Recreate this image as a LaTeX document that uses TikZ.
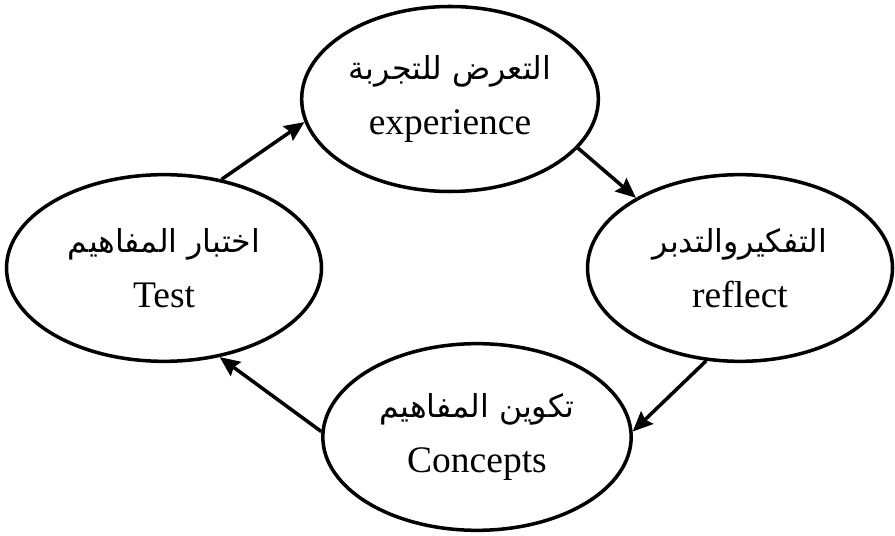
\documentclass[tikz,border=0pt]{standalone}
\usepackage{fontspec}
\usepackage{tikz}
\usetikzlibrary{shapes.geometric,arrows.meta}
\setmainfont{Liberation Serif}
\newfontfamily\arabicfont[Script=Arabic]{DejaVu Sans}
\TeXXeTstate=1
\newcommand{\ar}[1]{{\arabicfont\fontsize{27}{47}\selectfont\beginR #1\endR}}

\begin{document}
\begin{tikzpicture}[
		stage/.style={ellipse, draw, line width=3pt, inner sep=0pt, align=center,
			font=\fontsize{32}{47}\selectfont},
		flow/.style={line width=3pt, -{Stealth[length=0.6cm, width=0.52cm, inset=0.08cm]}}]
		\useasboundingbox (0, 0) rectangle (26.85, 16.05);
		%%
		\node[stage, minimum width=8.9cm, minimum height=5.55cm] (exp) at (13.5, 13.08) {\ar{التعرض للتجربة}\\experience};
		\node[stage, minimum width=9.15cm, minimum height=5.6cm] (refl) at (22.2, 8.01) {\ar{التفكيروالتدبر}\\reflect};
		\node[stage, minimum width=9.25cm, minimum height=5.6cm] (conc) at (14.31, 2.94) {\ar{تكوين المفاهيم}\\Concepts};
		\node[stage, minimum width=9.45cm, minimum height=5.6cm] (test) at (4.92, 8.01) {\ar{اختبار المفاهيم}\\Test};
		%%
		\draw[flow] (test.57) -- (exp.189);
		\draw[flow] (exp.339) -- (refl.146);
		\draw[flow] (refl.250) -- (conc.2);
		\draw[flow] (conc.178) -- (test.302);
	\end{tikzpicture}
\end{document}
